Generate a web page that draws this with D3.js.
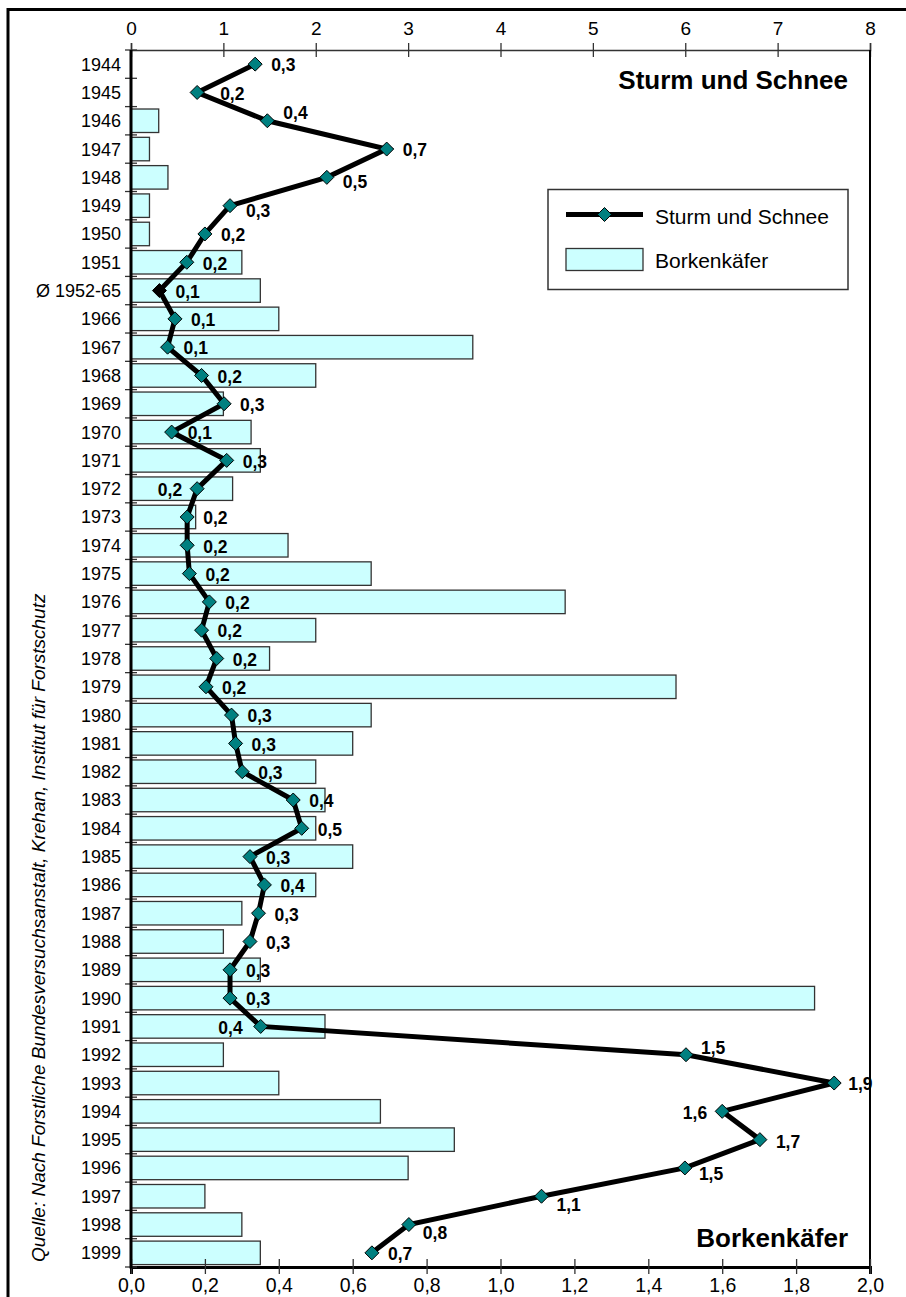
<!DOCTYPE html>
<html>
<head>
<meta charset="utf-8">
<script src="https://cdn.jsdelivr.net/npm/d3@7"></script>
<style>
  html, body { margin: 0; padding: 0; background: #fff; }
  svg { display: block; font-family: "Liberation Sans", Arial, Helvetica, sans-serif; }
</style>
</head>
<body>
<svg id="chart" width="906" height="1297"></svg>
<script>
// Categories (rows, top to bottom)
const categories = [
  "1944", "1945", "1946", "1947", "1948", "1949", "1950", "1951", "Ø 1952-65",
  "1966", "1967", "1968", "1969", "1970", "1971", "1972", "1973", "1974", "1975",
  "1976", "1977", "1978", "1979", "1980", "1981", "1982", "1983", "1984", "1985",
  "1986", "1987", "1988", "1989", "1990", "1991", "1992", "1993", "1994", "1995",
  "1996", "1997", "1998", "1999"
];

// Line series "Sturm und Schnee" (read against the bottom axis, 0–2)
const sturmUndSchnee = [
  0.336, 0.179, 0.369, 0.692, 0.530, 0.268, 0.200, 0.151, 0.077,
  0.119, 0.099, 0.191, 0.252, 0.110, 0.259, 0.179, 0.152, 0.152, 0.158,
  0.212, 0.191, 0.232, 0.203, 0.272, 0.283, 0.301, 0.439, 0.462, 0.322,
  0.361, 0.345, 0.322, 0.268, 0.268, 0.351, 1.502, 1.903, 1.600, 1.702,
  1.499, 1.111, 0.752, 0.652
];

// Bar series "Borkenkäfer" (read against the top axis, 0–8)
const borkenkaefer = [
  null, null, 0.3, 0.2, 0.4, 0.2, 0.2, 1.2, 1.4,
  1.6, 3.7, 2.0, 1.0, 1.3, 1.4, 1.1, 0.7, 1.7, 2.6,
  4.7, 2.0, 1.5, 5.9, 2.6, 2.4, 2.0, 2.1, 2.0, 2.4,
  2.0, 1.2, 1.0, 1.4, 7.4, 2.1, 1.0, 1.6, 2.7, 3.5,
  3.0, 0.8, 1.2, 1.4
];

// Axis tick values
const topTicks = [0, 1, 2, 3, 4, 5, 6, 7, 8];
const bottomTicks = [0, 0.2, 0.4, 0.6, 0.8, 1.0, 1.2, 1.4, 1.6, 1.8, 2.0];

// Texts
const titleTop = "Sturm und Schnee";
const titleBottom = "Borkenkäfer";
const legendLabels = ["Sturm und Schnee", "Borkenkäfer"];
const sourceText = "Quelle: Nach Forstliche Bundesversuchsanstalt, Krehan, Institut für Forstschutz";

// Individual placement of value labels that would otherwise collide
const labelNudge = {
  "1945": { dx: 23 },
  "1946": { dy: -8 },
  "1948": { dy: 4 },
  "1949": { dy: 5 },
  "1972": { dx: -15, anchor: "end" },
  "1991": { dx: -18, anchor: "end" },
  "1992": { dx: 15, dy: -7 },
  "1993": { dx: 14 },
  "1994": { dx: -15, anchor: "end" },
  "1995": { dy: 2 },
  "1996": { dx: 14, dy: 6 },
  "1997": { dx: 15, dy: 8 },
  "1998": { dx: 14, dy: 8 }
};

const deLocale = d3.formatLocale({ decimal: ",", thousands: ".", grouping: [3], currency: ["", " €"] });
const fmt1 = deLocale.format(".1f");

const rows = categories.map((c, i) => ({ cat: c, line: sturmUndSchnee[i], bar: borkenkaefer[i] }));

const svg = d3.select("#chart");
const plot = { left: 131, right: 870, top: 50, bottom: 1267 };

const xTop = d3.scaleLinear().domain([0, 8]).range([plot.left, plot.right]);
const xBottom = d3.scaleLinear().domain([0, 2]).range([plot.left, plot.right]);
const y = d3.scaleBand().domain(categories).range([plot.top, plot.bottom])
  .paddingInner(0.17).paddingOuter(0.085);
const step = y.step();
const boundary = c => y(c) - step * 0.085;

// outer frame
svg.append("rect")
  .attr("x", 8).attr("y", 9.5).attr("width", 1000).attr("height", 2000)
  .attr("fill", "none").attr("stroke", "#000").attr("stroke-width", 3);

// bars
svg.append("g").selectAll("rect")
  .data(rows.filter(d => d.bar != null))
  .join("rect")
  .attr("x", xTop(0))
  .attr("y", d => y(d.cat))
  .attr("width", d => xTop(d.bar) - xTop(0))
  .attr("height", y.bandwidth())
  .attr("fill", "#ccffff")
  .attr("stroke", "#333")
  .attr("stroke-width", 1.3);

// top axis
const gTop = svg.append("g").attr("transform", `translate(0,${plot.top})`)
  .call(d3.axisTop(xTop).tickValues(topTicks).tickFormat(d3.format("d")).tickSize(7));
gTop.select(".domain").attr("stroke", "#333").attr("stroke-width", 1.5);
gTop.selectAll(".tick line").attr("y1", 7).attr("y2", -7).attr("stroke", "#333").attr("stroke-width", 1.3);
gTop.selectAll(".tick text").attr("y", -15).attr("dy", 0)
  .attr("font-size", 19).attr("fill", "#000").attr("font-family", null);

// right border of the plot area
svg.append("line")
  .attr("x1", plot.right).attr("x2", plot.right)
  .attr("y1", plot.top).attr("y2", plot.bottom)
  .attr("stroke", "#000").attr("stroke-width", 2);

// bottom axis
const gBottom = svg.append("g").attr("transform", `translate(0,${plot.bottom})`)
  .call(d3.axisBottom(xBottom).tickValues(bottomTicks).tickFormat(fmt1).tickSize(7));
gBottom.select(".domain").attr("stroke", "#000").attr("stroke-width", 3);
gBottom.selectAll(".tick line").attr("y1", -8).attr("y2", 7).attr("stroke", "#333").attr("stroke-width", 1.3);
gBottom.selectAll(".tick text").attr("y", 25).attr("dy", 0)
  .attr("font-size", 19.5).attr("fill", "#000").attr("font-family", null);

// left axis: labels at band centres, ticks on row boundaries
const gLeft = svg.append("g").attr("transform", `translate(${plot.left},0)`)
  .call(d3.axisLeft(y).tickSize(0).tickPadding(10));
gLeft.select(".domain").remove();
gLeft.selectAll(".tick text").attr("dy", "0.36em")
  .attr("font-size", 18).attr("fill", "#000").attr("font-family", null);
const boundaries = categories.map(boundary).concat([plot.bottom]);
svg.append("g").selectAll("line")
  .data(boundaries)
  .join("line")
  .attr("x1", plot.left - 6).attr("x2", plot.left + 6)
  .attr("y1", d => d).attr("y2", d => d)
  .attr("stroke", "#333").attr("stroke-width", 1.3);
svg.append("line")
  .attr("x1", plot.left).attr("x2", plot.left)
  .attr("y1", plot.top).attr("y2", plot.bottom + 1.5)
  .attr("stroke", "#000").attr("stroke-width", 3);

// line series
const cy = d => y(d.cat) + y.bandwidth() / 2;
svg.append("path")
  .datum(rows)
  .attr("d", d3.line().x(d => xBottom(d.line)).y(cy))
  .attr("fill", "none")
  .attr("stroke", "#000")
  .attr("stroke-width", 5)
  .attr("stroke-linejoin", "miter");

const diamond = "M0,-7L7,0L0,7L-7,0Z";
svg.append("g").selectAll("path")
  .data(rows)
  .join("path")
  .attr("d", diamond)
  .attr("transform", d => `translate(${xBottom(d.line)},${cy(d)})`)
  .attr("fill", d => d.cat.startsWith("Ø") ? "#000" : "#008080")
  .attr("stroke", "#000")
  .attr("stroke-width", 1);

// value labels
svg.append("g").selectAll("text")
  .data(rows)
  .join("text")
  .attr("x", d => xBottom(d.line) + ((labelNudge[d.cat] || {}).dx ?? 16))
  .attr("y", d => cy(d) + ((labelNudge[d.cat] || {}).dy ?? 1))
  .attr("dy", "0.36em")
  .attr("text-anchor", d => (labelNudge[d.cat] || {}).anchor || "start")
  .attr("font-size", 17.5)
  .attr("font-weight", "bold")
  .attr("fill", "#000")
  .text(d => fmt1(d.line));

// titles
svg.append("text")
  .attr("x", 848).attr("y", 89)
  .attr("text-anchor", "end").attr("font-size", 26).attr("font-weight", "bold")
  .text(titleTop);
svg.append("text")
  .attr("x", 848).attr("y", 1247)
  .attr("text-anchor", "end").attr("font-size", 26).attr("font-weight", "bold")
  .text(titleBottom);

// legend
const lg = svg.append("g").attr("transform", "translate(548,189.5)");
lg.append("rect").attr("width", 300).attr("height", 100)
  .attr("fill", "#fff").attr("stroke", "#333").attr("stroke-width", 1.5);
lg.append("line").attr("x1", 18).attr("x2", 95).attr("y1", 25).attr("y2", 25)
  .attr("stroke", "#000").attr("stroke-width", 5);
lg.append("path").attr("d", diamond).attr("transform", "translate(56.5,25)")
  .attr("fill", "#008080").attr("stroke", "#000").attr("stroke-width", 1);
lg.append("rect").attr("x", 18).attr("y", 59).attr("width", 77).attr("height", 22)
  .attr("fill", "#ccffff").attr("stroke", "#333").attr("stroke-width", 1.3);
lg.selectAll("text.leg")
  .data(legendLabels)
  .join("text")
  .attr("class", "leg")
  .attr("x", 107)
  .attr("y", (d, i) => 27 + i * 44)
  .attr("dy", "0.36em")
  .attr("font-size", 21)
  .text(d => d);

// source note, rotated along the left edge
svg.append("text")
  .attr("transform", "translate(45,1262) rotate(-90)")
  .attr("font-size", 19)
  .attr("font-style", "italic")
  .text(sourceText);
</script>
</body>
</html>
